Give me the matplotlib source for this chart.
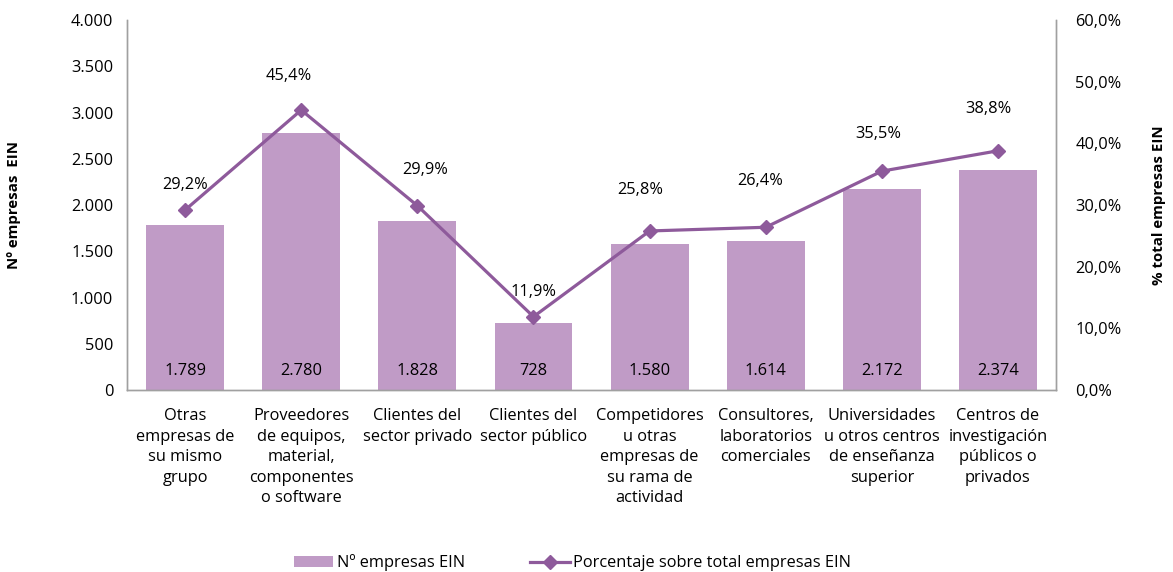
import matplotlib.pyplot as plt
import numpy as np

plt.rcParams['font.family'] = ['Open Sans', 'DejaVu Sans']

categorias = ["Otras\nempresas de\nsu mismo\ngrupo",
              "Proveedores\nde equipos,\nmaterial,\ncomponentes\no software",
              "Clientes del\nsector privado",
              "Clientes del\nsector público",
              "Competidores\nu otras\nempresas de\nsu rama de\nactividad",
              "Consultores,\nlaboratorios\ncomerciales",
              "Universidades\nu otros centros\nde enseñanza\nsuperior",
              "Centros de\ninvestigación\npúblicos o\nprivados"]
empresas = [1789, 2780, 1828, 728, 1580, 1614, 2172, 2374]
porcentaje = [29.2, 45.4, 29.9, 11.9, 25.8, 26.4, 35.5, 38.8]

# label offsets (pixels) as placed in the original
lab_dx = [0, -12, 8, 0, -9, -6, -4, -10]
lab_dy = [25, 34, 36, 25, 41, 46, 37, 42]

bar_color = "#C09BC6"
line_color = "#8E5A9B"
grey = "#A0A0A0"
fs = 11.8

def miles(v):
    return f"{int(v):,}".replace(",", ".")

fig = plt.figure(figsize=(11.73, 5.72), dpi=100)
ax = fig.add_axes([0.1083, 0.318, 0.7920, 0.647])
ax2 = ax.twinx()

x = np.arange(len(categorias))
bars = ax.bar(x, empresas, width=0.67, color=bar_color, label="Nº empresas EIN", zorder=2)
ax.set_ylim(0, 4000)
ax.set_xlim(-0.5, len(categorias) - 0.5)
ax.set_yticks(np.arange(0, 4001, 500))
ax.set_yticklabels([miles(v) for v in np.arange(0, 4001, 500)])
ax.set_xticks(x)
ax.set_xticklabels(categorias, fontsize=fs, linespacing=1.38)
ax.tick_params(axis='both', length=0, labelsize=fs, pad=10)
ax.tick_params(axis='x', pad=13)
ax.set_ylabel("Nº empresas  EIN", fontsize=10.8, fontweight='bold', labelpad=36)

for xi, v in zip(x, empresas):
    ax.annotate(miles(v), (xi, 0), xytext=(0, 13.7), textcoords='offset points',
                ha='center', va='center', fontsize=fs, color='black', zorder=3)

line, = ax2.plot(x, porcentaje, color=line_color, lw=2.3, marker='D', markersize=7,
                 label="Porcentaje sobre total empresas EIN", zorder=4)
ax2.set_ylim(0, 60)
ax2.set_yticks(np.arange(0, 61, 10))
ax2.set_yticklabels([f"{v:.1f}%".replace(".", ",") for v in np.arange(0, 61, 10)])
ax2.tick_params(axis='y', length=0, labelsize=fs, pad=14)
ax2.set_ylabel("% total empresas EIN", fontsize=10.8, fontweight='bold', labelpad=22)

for xi, p, dx, dy in zip(x, porcentaje, lab_dx, lab_dy):
    ax2.annotate(f"{p:.1f}%".replace(".", ","), (xi, p), xytext=(dx * 0.72, dy * 0.72),
                 textcoords='offset points', ha='center', va='center', fontsize=fs)

for a in (ax, ax2):
    a.spines['top'].set_visible(False)
    for s in ('left', 'right', 'bottom'):
        a.spines[s].set_color(grey)
        a.spines[s].set_linewidth(1.0)

fig.legend([bars, line], ["Nº empresas EIN", "Porcentaje sobre total empresas EIN"],
           loc='center', bbox_to_anchor=(0.488, 0.016), ncol=2, frameon=False,
           fontsize=fs, handlelength=2.4, handletextpad=0.2, columnspacing=4.0,
           borderaxespad=0)

fig.savefig("out.png", dpi=100)
